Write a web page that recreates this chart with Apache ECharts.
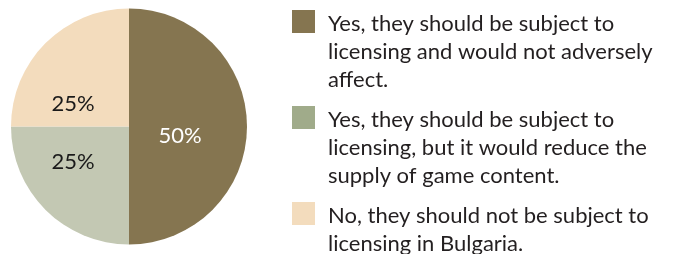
<!DOCTYPE html>
<html>
<head>
<meta charset="utf-8">
<script src="https://cdn.jsdelivr.net/npm/echarts@6/dist/echarts.min.js"></script>
<style>
  html, body { margin: 0; padding: 0; background: #fff; }
  #chart { width: 673px; height: 254px; }
</style>
</head>
<body>
<div id="chart"></div>
<script>
// legend text, broken into lines the way the source prints it
var answerLines = [
    ['Yes, they should be subject to', 'licensing and would not adversely', 'affect.'],
    ['Yes, they should be subject to', 'licensing, but it would reduce the', 'supply of game content.'],
    ['No, they should not be subject to', 'licensing in Bulgaria.']
]
var answers = answerLines.map(function (l) { return l.join(' ') })
// share of respondents, %
var shares = [50, 25, 25]

var sliceColors = ['#857550', '#c3c8b3', '#f3dcbd']
var swatchColors = ['#857550', '#a0ab8a', '#f3dcbd']
var labelColors = ['#ffffff', '#1a1a1a', '#1a1a1a']
// nudge labels off the default mid-radius spot
var labelShift = [[-11, 9], [-12, -8], [-12, 21]]

var chart = echarts.init(document.getElementById('chart'))

var option = {
    animation: false,
    legend: {
        orient: 'vertical',
        left: 287,
        top: 5,
        height: 320,
        itemGap: 12,
        itemWidth: 31,
        itemHeight: 84,
        // square at the top, a tiny dot at the far corner keeps the box size
        icon: 'path://M0,0h23v23h-23z M31,84h0.01v0.01h-0.01z',
        selectedMode: false,
        textStyle: {
            fontFamily: 'Lato',
            fontSize: 22,
            lineHeight: 28,
            color: '#231f20'
        },
        formatter: function (name) {
            var lines = answerLines[answers.indexOf(name)].slice()
            while (lines.length < 3) lines.push('')
            return lines.join('\n')
        },
        data: answers.map(function (a, i) {
            return { name: a, itemStyle: { color: swatchColors[i] } }
        })
    },
    series: [{
        type: 'pie',
        center: [129, 126.5],
        radius: 118,
        startAngle: 90,
        clockwise: true,
        silent: true,
        label: {
            show: true,
            position: 'inside',
            formatter: '{c}%',
            fontFamily: 'Lato',
            fontSize: 22
        },
        labelLine: { show: false },
        labelLayout: function (params) {
            var s = labelShift[params.dataIndex]
            return { dx: s[0], dy: s[1] }
        },
        emphasis: { disabled: true },
        data: shares.map(function (v, i) {
            return {
                name: answers[i],
                value: v,
                itemStyle: { color: sliceColors[i] },
                label: { color: labelColors[i] }
            }
        })
    }]
}
chart.setOption(option)
</script>
</body>
</html>
